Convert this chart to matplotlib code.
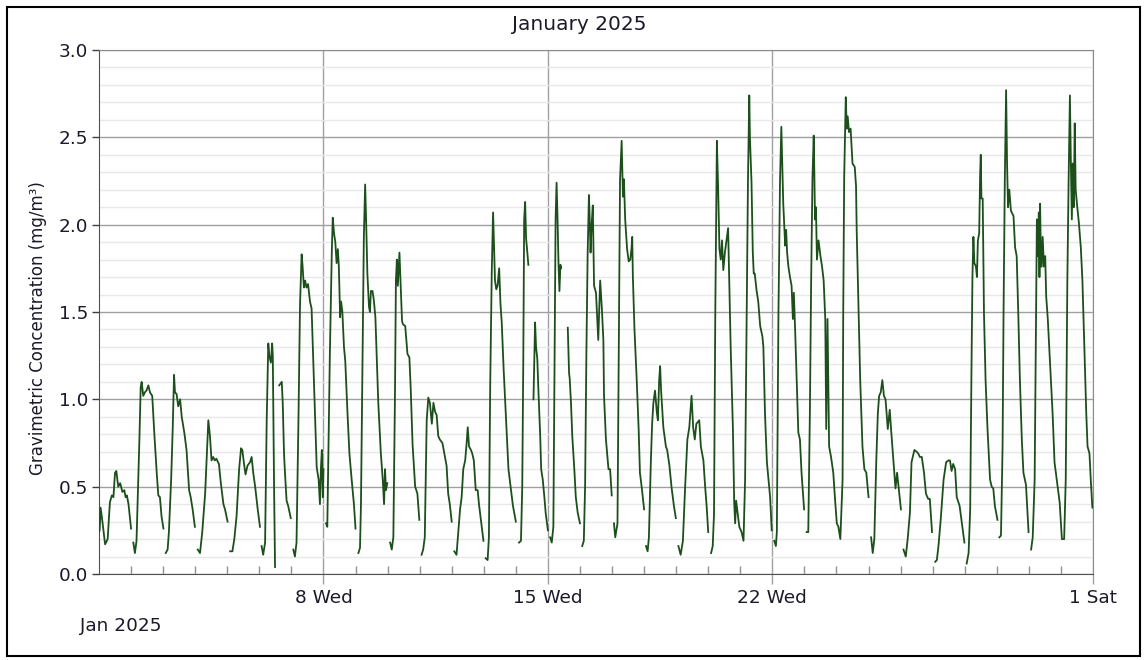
import numpy as np
import matplotlib
matplotlib.use("Agg")
import matplotlib.pyplot as plt
from matplotlib.patches import Rectangle
from matplotlib.ticker import MultipleLocator, FixedLocator, FixedFormatter

plt.rcParams['font.family'] = ['DejaVu Sans']

nan = np.nan

# time = days since 1 Jan 2025 00:00, conc = mg/m3 ; nan = gap in the record
t_week1 = [0.00, 0.02, 0.05, 0.10, 0.19, 0.27, 0.34, 0.40, 0.45, 0.50, 0.54, 0.60, 0.66, 0.73, 0.79, 0.83, 0.87, 0.92, 1.00, nan,
           1.07, 1.12, 1.17, 1.23, 1.26, 1.30, 1.33, 1.38, 1.43, 1.48, 1.54, 1.59, 1.66, 1.73, 1.80, 1.85, 1.90, 1.95, 2.01, nan,
           2.08, 2.14, 2.18, 2.25, 2.30, 2.34, 2.37, 2.42, 2.47, 2.53, 2.58, 2.66, 2.73, 2.81, 2.86, 2.92, 2.99, nan,
           3.08, 3.15, 3.22, 3.31, 3.36, 3.41, 3.46, 3.51, 3.56, 3.61, 3.66, 3.74, 3.80, 3.88, 3.93, 4.01, nan,
           4.09, 4.16, 4.22, 4.29, 4.37, 4.43, 4.47, 4.53, 4.57, 4.63, 4.71, 4.76, 4.81, 4.87, 4.95, 5.02, nan,
           5.07, 5.12, 5.18, 5.23, 5.28, 5.31, 5.36, 5.40, 5.42, 5.46, 5.49, nan,
           5.62, 5.66, 5.70, 5.73, 5.77, 5.80, 5.85, 5.90, 5.98, nan,
           6.06, 6.11, 6.16, 6.22, 6.27, 6.32, 6.35, 6.39, 6.43, 6.47, 6.52, 6.58, 6.63, 6.68, 6.74, 6.79, 6.85, 6.89, 6.92, 6.95, 6.98, 7.00, nan]
c_week1 = [0.24, 0.25, 0.38, 0.31, 0.17, 0.20, 0.41, 0.45, 0.44, 0.58, 0.59, 0.50, 0.52, 0.47, 0.48, 0.44, 0.45, 0.40, 0.26, nan,
           0.18, 0.12, 0.19, 0.58, 0.77, 1.07, 1.10, 1.02, 1.04, 1.05, 1.08, 1.04, 1.02, 0.79, 0.58, 0.45, 0.44, 0.33, 0.26, nan,
           0.12, 0.14, 0.24, 0.54, 0.84, 1.14, 1.04, 1.03, 0.96, 1.00, 0.90, 0.81, 0.71, 0.48, 0.44, 0.37, 0.27, nan,
           0.14, 0.12, 0.24, 0.46, 0.67, 0.88, 0.79, 0.65, 0.67, 0.65, 0.66, 0.63, 0.52, 0.40, 0.37, 0.30, nan,
           0.13, 0.13, 0.20, 0.33, 0.60, 0.72, 0.71, 0.62, 0.57, 0.62, 0.64, 0.67, 0.58, 0.50, 0.37, 0.27, nan,
           0.16, 0.11, 0.18, 0.88, 1.32, 1.25, 1.21, 1.32, 1.25, 0.50, 0.04, nan,
           1.08, 1.09, 1.10, 0.98, 0.69, 0.58, 0.42, 0.39, 0.32, nan,
           0.14, 0.10, 0.18, 0.88, 1.55, 1.83, 1.76, 1.64, 1.68, 1.64, 1.66, 1.56, 1.52, 1.23, 0.88, 0.61, 0.54, 0.40, 0.60, 0.71, 0.44, 0.60, nan]

t_week2 = [7.08, 7.10, 7.12, 7.20, 7.26, 7.29, 7.33, 7.37, 7.41, 7.45, 7.48, 7.52, 7.55, 7.59, 7.64, 7.68, 7.75, 7.81, 7.88, 7.95, 8.00, nan,
           8.09, 8.14, 8.17, 8.21, 8.26, 8.30, 8.33, 8.37, 8.42, 8.45, 8.48, 8.53, 8.57, 8.62, 8.66, 8.71, 8.79, 8.85, 8.89, 8.92, 8.95, 8.99, nan,
           9.08, 9.13, 9.18, 9.23, 9.26, 9.29, 9.32, 9.37, 9.41, 9.45, 9.48, 9.55, 9.62, 9.68, 9.72, 9.78, 9.86, 9.93, 9.99, nan,
           10.06, 10.11, 10.16, 10.22, 10.27, 10.32, 10.38, 10.43, 10.48, 10.53, 10.58, 10.63, 10.71, 10.77, 10.84, 10.89, 10.94, 11.00, nan,
           11.08, 11.15, 11.21, 11.26, 11.31, 11.36, 11.42, 11.47, 11.50, 11.54, 11.60, 11.64, 11.69, 11.75, 11.81, 11.85, 11.91, 11.99, nan,
           12.06, 12.12, 12.16, 12.20, 12.25, 12.29, 12.32, 12.35, 12.39, 12.43, 12.48, 12.52, 12.56, 12.62, 12.69, 12.77, 12.85, 12.91, 13.00, nan,
           13.10, 13.16, 13.20, 13.23, 13.26, 13.29, 13.32, 13.35, 13.39, nan,
           13.55, 13.60, 13.63, 13.67, 13.70, 13.76, 13.79, 13.84, 13.89, 13.93, 14.00, nan]
c_week2 = [0.29, 0.28, 0.27, 1.26, 1.84, 2.04, 1.95, 1.90, 1.78, 1.86, 1.76, 1.47, 1.56, 1.50, 1.30, 1.22, 0.92, 0.69, 0.54, 0.40, 0.26, nan,
           0.12, 0.15, 0.40, 1.07, 1.93, 2.23, 2.03, 1.72, 1.53, 1.50, 1.62, 1.62, 1.57, 1.47, 1.26, 0.98, 0.69, 0.54, 0.40, 0.60, 0.48, 0.52, nan,
           0.18, 0.14, 0.21, 1.02, 1.68, 1.80, 1.65, 1.84, 1.65, 1.45, 1.43, 1.42, 1.26, 1.24, 1.07, 0.74, 0.50, 0.46, 0.31, nan,
           0.11, 0.14, 0.21, 0.88, 1.01, 0.98, 0.86, 0.98, 0.93, 0.91, 0.79, 0.77, 0.75, 0.69, 0.62, 0.46, 0.40, 0.30, nan,
           0.13, 0.11, 0.25, 0.37, 0.44, 0.60, 0.65, 0.76, 0.84, 0.73, 0.71, 0.69, 0.65, 0.48, 0.48, 0.40, 0.31, 0.19, nan,
           0.09, 0.08, 0.21, 1.07, 1.74, 2.07, 1.88, 1.68, 1.63, 1.65, 1.75, 1.55, 1.44, 1.17, 0.90, 0.60, 0.48, 0.39, 0.30, nan,
           0.18, 0.19, 0.50, 1.17, 2.03, 2.13, 1.92, 1.86, 1.77, nan,
           1.00, 1.44, 1.30, 1.23, 1.07, 0.79, 0.60, 0.54, 0.44, 0.35, 0.25, nan]

t_week3 = [14.07, 14.12, 14.17, 14.21, 14.24, 14.27, 14.30, 14.33, 14.36, 14.39, 14.41, nan,
           14.62, 14.66, 14.68, 14.72, 14.76, 14.83, 14.87, 14.93, 15.00, nan,
           15.07, 15.12, 15.16, 15.20, 15.24, 15.28, 15.31, 15.33, 15.36, 15.40, 15.44, 15.50, 15.57, 15.63, 15.68, 15.73, 15.75, 15.81, 15.89, 15.94, 15.99, nan,
           16.06, 16.10, 16.17, 16.21, 16.25, 16.30, 16.34, 16.37, 16.41, 16.47, 16.52, 16.57, 16.61, 16.63, 16.65, 16.70, 16.77, 16.83, 16.87, 16.93, 17.00, nan,
           17.06, 17.11, 17.15, 17.21, 17.25, 17.29, 17.34, 17.40, 17.43, 17.47, 17.50, 17.53, 17.60, 17.68, 17.72, 17.79, 17.86, 17.93, 17.99, nan,
           18.07, 18.14, 18.21, 18.28, 18.35, 18.41, 18.48, 18.53, 18.58, 18.63, 18.72, 18.77, 18.85, 18.90, 18.95, 19.00, nan,
           19.09, 19.14, 19.18, 19.22, 19.27, 19.31, 19.35, 19.39, 19.43, 19.47, 19.52, 19.57, 19.62, 19.66, 19.70, 19.77, 19.81, 19.84, 19.87, 19.91, 19.97,
           20.04, 20.10, 20.15, 20.20, 20.24, 20.28, 20.30, 20.35, 20.39, 20.42, 20.45, 20.51, 20.56, 20.62, 20.69, 20.72, 20.77, 20.83, 20.88, 20.93, 20.98, nan]
c_week3 = [0.21, 0.18, 0.27, 1.26, 2.03, 2.24, 2.04, 1.78, 1.62, 1.77, 1.75, nan,
           1.41, 1.15, 1.12, 0.98, 0.79, 0.58, 0.44, 0.35, 0.29, nan,
           0.16, 0.19, 0.50, 1.26, 1.84, 2.17, 1.99, 1.84, 1.99, 2.11, 1.65, 1.61, 1.34, 1.68, 1.53, 1.34, 1.02, 0.77, 0.60, 0.60, 0.45, nan,
           0.29, 0.21, 0.29, 1.30, 2.26, 2.48, 2.16, 2.26, 2.03, 1.86, 1.79, 1.80, 1.87, 1.93, 1.70, 1.40, 1.11, 0.83, 0.58, 0.49, 0.37, nan,
           0.16, 0.13, 0.21, 0.64, 0.86, 0.98, 1.05, 0.92, 0.88, 1.11, 1.19, 1.05, 0.84, 0.73, 0.71, 0.62, 0.49, 0.39, 0.32, nan,
           0.16, 0.11, 0.19, 0.50, 0.77, 0.84, 1.02, 0.84, 0.77, 0.86, 0.88, 0.73, 0.65, 0.51, 0.39, 0.24, nan,
           0.12, 0.16, 0.34, 1.49, 2.48, 2.20, 1.86, 1.80, 1.91, 1.74, 1.84, 1.91, 1.98, 1.65, 1.30, 0.83, 0.41, 0.29, 0.42, 0.36, 0.27,
           0.24, 0.19, 0.54, 1.49, 2.26, 2.74, 2.50, 2.24, 1.84, 1.72, 1.72, 1.62, 1.56, 1.42, 1.36, 1.30, 0.92, 0.64, 0.54, 0.44, 0.25, nan]

t_week4 = [21.06, 21.11, 21.14, 21.19, 21.24, 21.28, 21.31, 21.34, 21.40, 21.43, 21.46, 21.50, 21.55, 21.60, 21.64, 21.67, 21.71, 21.76, 21.81, 21.86, 21.91, 21.99, nan,
           22.07, 22.12, 22.17, 22.21, 22.25, 22.29, 22.31, 22.33, 22.36, 22.39, 22.44, 22.50, 22.55, 22.60, 22.65, 22.68, 22.72, 22.75, 22.77, 22.83, 22.90, 22.95,
           23.01, 23.06, 23.12, 23.19, 23.21, 23.24, 23.29, 23.32, 23.35, 23.39, 23.44, 23.50, 23.57, 23.61, 23.63, 23.69, 23.74, 23.81, 23.87, 23.93, 24.00, nan,
           24.08, 24.13, 24.18, 24.24, 24.29, 24.33, 24.38, 24.43, 24.48, 24.53, 24.60, 24.66, 24.71, 24.78, 24.84, 24.89, 24.94, 25.01, nan,
           25.09, 25.16, 25.22, 25.29, 25.34, 25.43, 25.50, 25.55, 25.60, 25.66, 25.73, 25.79, 25.86, 25.91, 25.98, nan,
           26.08, 26.13, 26.18, 26.25, 26.34, 26.42, 26.49, 26.54, 26.59, 26.64, 26.70, 26.75, 26.84, 26.91, 26.99, nan,
           27.06, 27.12, 27.17, 27.21, 27.24, 27.27, 27.30, 27.35, 27.38, 27.41, 27.45, 27.48, 27.50, 27.52, 27.56, 27.60, 27.65, 27.71, 27.79, 27.84, 27.89, 27.94, 28.02, nan]
c_week4 = [0.19, 0.16, 0.24, 1.49, 2.26, 2.56, 2.33, 2.12, 1.88, 1.97, 1.84, 1.76, 1.70, 1.65, 1.46, 1.61, 1.40, 1.11, 0.81, 0.77, 0.58, 0.37, nan,
           0.24, 0.24, 0.92, 1.68, 2.26, 2.51, 2.29, 2.03, 2.10, 1.80, 1.91, 1.82, 1.76, 1.68, 1.46, 0.83, 1.46, 0.99, 0.73, 0.67, 0.58, 0.44,
           0.29, 0.27, 0.20, 0.54, 1.49, 2.27, 2.73, 2.55, 2.62, 2.53, 2.55, 2.35, 2.33, 2.22, 1.97, 1.49, 1.11, 0.73, 0.60, 0.58, 0.44, nan,
           0.21, 0.12, 0.20, 0.64, 0.92, 1.02, 1.04, 1.11, 1.02, 1.00, 0.83, 0.94, 0.81, 0.64, 0.49, 0.58, 0.49, 0.37, nan,
           0.14, 0.10, 0.20, 0.35, 0.64, 0.71, 0.70, 0.69, 0.67, 0.67, 0.58, 0.46, 0.43, 0.43, 0.24, nan,
           0.07, 0.08, 0.16, 0.31, 0.54, 0.64, 0.65, 0.65, 0.59, 0.63, 0.60, 0.44, 0.39, 0.29, 0.18, nan,
           0.06, 0.12, 0.37, 1.17, 1.70, 1.93, 1.78, 1.76, 1.70, 1.91, 1.95, 2.29, 2.40, 2.15, 2.15, 1.49, 1.11, 0.83, 0.54, 0.50, 0.49, 0.39, 0.31, nan]

t_week5 = [28.08, 28.13, 28.18, 28.21, 28.25, 28.29, 28.32, 28.35, 28.39, 28.44, 28.52, 28.57, 28.62, 28.67, 28.72, 28.78, 28.83, 28.91, 28.99, nan,
           29.07, 29.12, 29.18, 29.22, 29.25, 29.28, 29.31, 29.33, 29.35, 29.38, 29.40, 29.43, 29.47, 29.51, 29.54, 29.59, 29.66, 29.74, 29.80, 29.87, 29.96,
           30.03, 30.10, 30.15, 30.20, 30.24, 30.28, 30.31, 30.34, 30.37, 30.40, 30.43, 30.46, 30.51, 30.56, 30.62, 30.67, 30.73, 30.79, 30.83, 30.89, 30.93, 30.98]
c_week5 = [0.21, 0.22, 0.73, 1.49, 2.26, 2.77, 2.35, 2.10, 2.20, 2.08, 2.05, 1.87, 1.82, 1.49, 1.11, 0.77, 0.58, 0.51, 0.24, nan,
           0.14, 0.21, 0.54, 1.40, 2.03, 1.82, 2.07, 1.70, 2.12, 1.76, 1.76, 1.93, 1.76, 1.82, 1.59, 1.46, 1.21, 0.92, 0.64, 0.54, 0.41,
           0.20, 0.20, 0.54, 1.68, 2.26, 2.74, 2.35, 2.03, 2.35, 2.10, 2.58, 2.20, 2.10, 2.01, 1.87, 1.68, 1.30, 0.92, 0.73, 0.69, 0.54, 0.38]

week_ticks = [7, 14, 21, 31]
week_labels = ['8 Wed', '15 Wed', '22 Wed', '1 Sat']

t_all = np.concatenate([t_week1, t_week2, t_week3, t_week4, t_week5])
c_all = np.concatenate([c_week1, c_week2, c_week3, c_week4, c_week5])

W, H = 1144, 660
fig = plt.figure(figsize=(W / 100, H / 100), dpi=100)
ax = fig.add_axes([99 / W, 1 - 574 / H, (1093 - 99) / W, (574 - 50) / H])

ax.plot(t_all, c_all, color='#1c4f1c', lw=1.3, zorder=3)

ax.set_xlim(0, 31)
ax.set_ylim(0, 3)

txt = '#1a1a2a'

# y axis
ax.yaxis.set_major_locator(MultipleLocator(0.5))
ax.yaxis.set_minor_locator(MultipleLocator(0.1))
ax.yaxis.set_major_formatter(plt.FuncFormatter(lambda v, p: f'{v:.1f}'))
ax.grid(which='major', axis='y', color='#a0a0a0', lw=1.0)
ax.grid(which='minor', axis='y', color='#e8e8e8', lw=1.0)
ax.tick_params(axis='y', which='major', direction='out', length=5, width=1, pad=3,
               labelsize=13.3, colors='#404040', labelcolor=txt)
ax.tick_params(axis='y', which='minor', length=0)

# x axis: weekly labels, daily minor ticks
ax.xaxis.set_major_locator(FixedLocator(week_ticks))
ax.xaxis.set_major_formatter(FixedFormatter(week_labels))
ax.xaxis.set_minor_locator(FixedLocator([d for d in range(1, 31) if d not in week_ticks]))
ax.grid(which='major', axis='x', color='#a0a0a0', lw=1.0)
ax.tick_params(axis='x', which='major', direction='out', length=7, width=1, pad=4,
               labelsize=13.3, colors='#a0a0a0', labelcolor=txt)
ax.tick_params(axis='x', which='minor', direction='in', length=6, width=1, colors='#909090')

for side in ['top', 'right']:
    ax.spines[side].set_color('#8c8c8c')
for side in ['left', 'bottom']:
    ax.spines[side].set_color('#505050')

fig.text(579 / W, 1 - 24 / H, 'January 2025', ha='center', va='center', fontsize=14.5, color=txt)
fig.text(38 / W, 1 - 328 / H, 'Gravimetric Concentration (mg/m³)', rotation=90,
         ha='center', va='center', fontsize=12, color=txt)
fig.text(80 / W, 1 - 626 / H, 'Jan 2025', ha='left', va='center', fontsize=13.3, color=txt)

# outer frame
fig.patches.append(Rectangle((7 / W, 4 / H), (1140 - 7) / W, (656 - 7) / H,
                             transform=fig.transFigure, fill=False, ec='black', lw=1.5))

fig.savefig('out.png', dpi=100)
